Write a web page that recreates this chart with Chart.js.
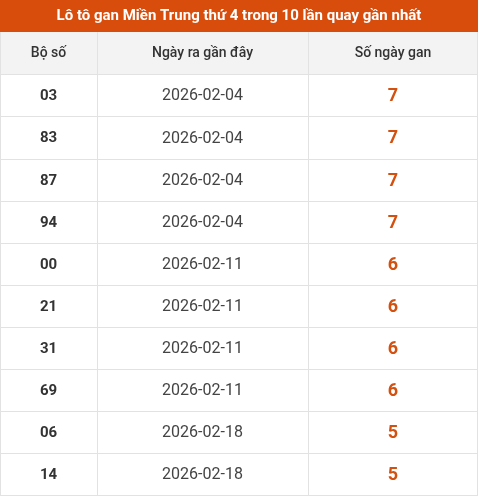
<!DOCTYPE html>
<html><head><meta charset="utf-8">
<script src="https://cdn.jsdelivr.net/npm/chart.js@4/dist/chart.umd.min.js"></script>
<style>html,body{margin:0;padding:0;background:#fff}#w{width:478px;height:496px}</style>
</head><body><div id="w"><canvas id="c"></canvas></div>
<script>
const title = "Lô tô gan Miền Trung thứ 4 trong 10 lần quay gần nhất";
const headers = ["Bộ số", "Ngày ra gần đây", "Số ngày gan"];
const numbers = ["03","83","87","94","00","21","31","69","06","14"];
const dates = ["2026-02-04","2026-02-04","2026-02-04","2026-02-04","2026-02-11","2026-02-11","2026-02-11","2026-02-11","2026-02-18","2026-02-18"];
const ganDays = [7,7,7,7,6,6,6,6,5,5];
const colEdges = [0, 97, 308, 478];
const rowEdges = [0, 32, 75, 117, 160, 202, 244, 286, 328, 370, 412, 454, 496];

const tablePlugin = {
  id: 'table',
  afterDraw(chart) {
    const ctx = chart.ctx, xs = chart.scales.x, ys = chart.scales.y;
    const X = v => xs.getPixelForValue(v), Y = v => ys.getPixelForValue(v);
    ctx.save();
    // title
    ctx.fillStyle = '#d84c0c';
    ctx.fillRect(X(0), Y(rowEdges[0]), X(478)-X(0), Y(rowEdges[1])-Y(rowEdges[0]));
    ctx.fillStyle = '#fff'; ctx.font = 'bold 15px Roboto, Arial'; ctx.textAlign='center'; ctx.textBaseline='middle';
    ctx.fillText(title, X(239), (Y(rowEdges[0])+Y(rowEdges[1]))/2);
    // header bg
    ctx.fillStyle = '#f3f3f3';
    ctx.fillRect(X(0), Y(rowEdges[1]), X(478)-X(0), Y(rowEdges[2])-Y(rowEdges[1]));
    // grid
    ctx.strokeStyle = '#e2e2e2'; ctx.lineWidth = 1;
    for (let r = 2; r < rowEdges.length; r++) {
      const y = Math.round(Y(rowEdges[r])) - 0.5;
      ctx.beginPath(); ctx.moveTo(X(0), y); ctx.lineTo(X(478), y); ctx.stroke();
    }
    for (const c of colEdges) {
      const x = Math.min(Math.round(X(c)) + 0.5, X(478)-0.5);
      ctx.beginPath(); ctx.moveTo(x, Y(rowEdges[1])); ctx.lineTo(x, Y(496)); ctx.stroke();
    }
    const cx = i => (X(colEdges[i]) + X(colEdges[i+1]))/2;
    const cy = r => (Y(rowEdges[r]) + Y(rowEdges[r+1]))/2;
    ctx.fillStyle = '#333'; ctx.font = '500 14px Roboto, Arial';
    headers.forEach((h,i) => ctx.fillText(h, cx(i), cy(1)));
    for (let i = 0; i < numbers.length; i++) {
      const r = i + 2;
      ctx.fillStyle = '#333'; ctx.font = 'bold 15px Roboto, Arial';
      ctx.fillText(numbers[i], cx(0), cy(r));
      ctx.fillStyle = '#444'; ctx.font = '16px Roboto, Arial';
      ctx.fillText(dates[i], cx(1), cy(r));
      ctx.fillStyle = '#d4500f'; ctx.font = 'bold 18px Roboto, Arial';
      ctx.fillText(String(ganDays[i]), cx(2), cy(r));
    }
    ctx.restore();
  }
};

new Chart(document.getElementById('c'), {
  type: 'scatter',
  data: { datasets: [{ data: [], pointRadius: 0 }] },
  options: {
    responsive: true, maintainAspectRatio: false, animation: false,
    layout: { padding: 0 },
    plugins: { legend: { display: false }, tooltip: { enabled: false } },
    scales: {
      x: { type: 'linear', min: 0, max: 478, display: false },
      y: { type: 'linear', min: 0, max: 496, reverse: true, display: false }
    }
  },
  plugins: [tablePlugin]
});
</script></body></html>
